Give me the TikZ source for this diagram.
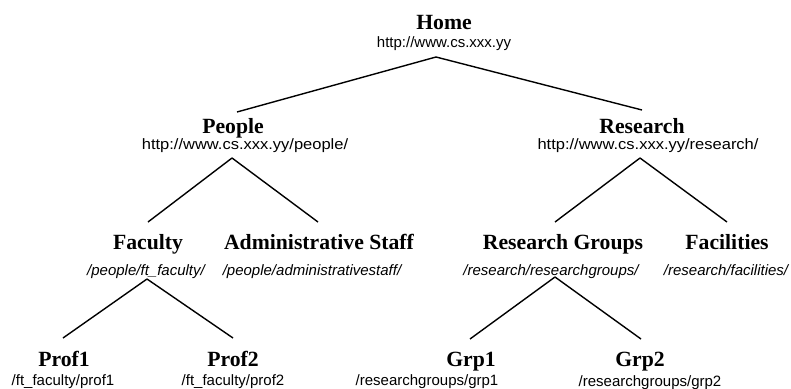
\documentclass[tikz,border=0pt]{standalone}
\usepackage{fontspec}
\setmainfont{Liberation Serif}
\newfontfamily\urlfont{Liberation Sans}
\newfontfamily\urlwide[FakeStretch=1.1]{Liberation Sans}
\begin{document}
\begin{tikzpicture}[x=1pt,y=-1pt,
  ttl/.style={font=\fontsize{21.7}{24}\selectfont\bfseries, inner sep=0pt, anchor=base},
  url/.style={font=\urlfont\fontsize{15}{17}\selectfont, inner sep=0pt, anchor=base},
  wurl/.style={font=\urlwide\fontsize{15}{17}\selectfont, inner sep=0pt, anchor=base},
  iurl/.style={font=\urlfont\itshape\fontsize{15}{17}\selectfont, inner sep=0pt, anchor=base},
  link/.style={line width=1.4pt}]
\useasboundingbox (0,0) rectangle (791,388);
% level 0
\node[ttl] (home) at (444,29) {Home};
\node[url] (homeu) at (444,47) {http://www.cs.xxx.yy};
% level 1
\node[ttl] (people) at (233,133) {People};
\node[wurl] (peopleu) at (245,149) {http://www.cs.xxx.yy/people/};
\node[ttl] (research) at (642,133) {Research};
\node[wurl] (researchu) at (648,149) {http://www.cs.xxx.yy/research/};
% level 2
\node[ttl] (faculty) at (148,249) {Faculty};
\node[iurl] (facultyu) at (146,275) {/people/ft\_faculty/};
\node[ttl] (admin) at (319,249) {Administrative Staff};
\node[iurl] (adminu) at (312,275) {/people/administrativestaff/};
\node[ttl] (rgroups) at (563,249) {Research Groups};
\node[iurl] (rgroupsu) at (551,275) {/research/researchgroups/};
\node[ttl] (facil) at (727,249) {Facilities};
\node[iurl] (facilu) at (726,275) {/research/facilities/};
% level 3
\node[ttl] (prof1) at (64,366) {Prof1};
\node[url] (prof1u) at (63,385) {/ft\_faculty/prof1};
\node[ttl] (prof2) at (233,366) {Prof2};
\node[url] (prof2u) at (233,385) {/ft\_faculty/prof2};
\node[ttl] (grp1) at (471,366) {Grp1};
\node[url] (grp1u) at (427,385) {/researchgroups/grp1};
\node[ttl] (grp2) at (640,366) {Grp2};
\node[url] (grp2u) at (650,386) {/researchgroups/grp2};
% connector ends
\coordinate (homeB) at (436,57);
\coordinate (peopleT) at (237,112);
\coordinate (researchT) at (642,110);
\coordinate (peopleB) at (232,158);
\coordinate (facultyT) at (148,222);
\coordinate (adminT) at (318,222);
\coordinate (researchB) at (640,158);
\coordinate (rgroupsT) at (555,222);
\coordinate (facilT) at (727,222);
\coordinate (facultyB) at (147,279);
\coordinate (prof1T) at (63,338);
\coordinate (prof2T) at (233,338);
\coordinate (rgroupsB) at (555,277);
\coordinate (grp1T) at (470,339);
\coordinate (grp2T) at (641,339);
\draw[link] (homeB) -- (peopleT);
\draw[link] (homeB) -- (researchT);
\draw[link] (peopleB) -- (facultyT);
\draw[link] (peopleB) -- (adminT);
\draw[link] (researchB) -- (rgroupsT);
\draw[link] (researchB) -- (facilT);
\draw[link] (facultyB) -- (prof1T);
\draw[link] (facultyB) -- (prof2T);
\draw[link] (rgroupsB) -- (grp1T);
\draw[link] (rgroupsB) -- (grp2T);
\end{tikzpicture}
\end{document}
